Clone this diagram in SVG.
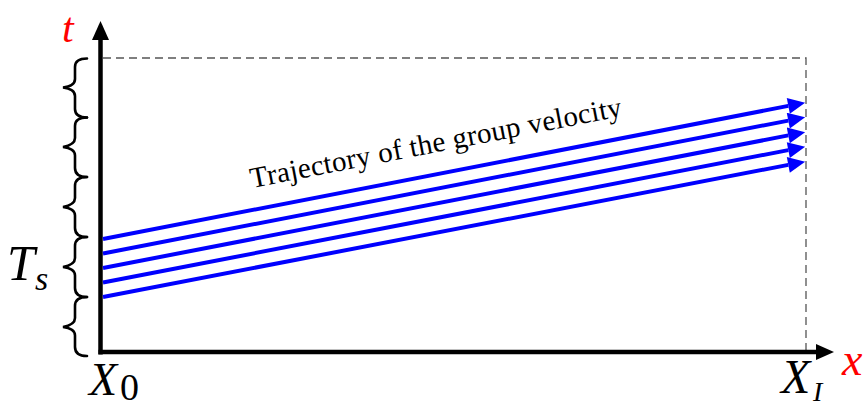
<svg xmlns="http://www.w3.org/2000/svg" width="868" height="410" viewBox="0 0 868 410">
<style>
.axis{stroke:#000;stroke-width:4.5;fill:none}
.dash{stroke:#555;stroke-width:1.3;stroke-dasharray:8 5;fill:none}
.traj{stroke:#0000FF;stroke-width:4;fill:none;marker-end:url(#bluehead)}
.brace{stroke:#000;stroke-width:2.6;fill:none;stroke-linecap:round}
</style>
<defs>
<marker id="bluehead" markerUnits="userSpaceOnUse" markerWidth="18" markerHeight="16" refX="0" refY="7" orient="auto" viewBox="0 0 15 14">
<path d="M0,0 L15,7 L0,14 z" fill="#0000FF"/>
</marker>
</defs>
<rect width="868" height="410" fill="#fff"/>
<g id="frame">
<path class="dash" d="M103,58 H806 V352"/>
</g>
<g id="axes">
<path class="axis" d="M100.5,354.5 V36"/>
<polygon points="100.5,21 92,40 109,40" fill="#000"/>
<path class="axis" d="M98.5,352 H818"/>
<polygon points="834,352 816,344 816,360" fill="#000"/>
</g>
<g id="braces">
<path class="brace" d="M87,58.5 C79,58.5 75,61 75,67 L75,79 C75,84 71,86.5 63,87.5 C71,88.5 75,91 75,96 L75,109 C75,115 79,117.5 87,117.5"/>
<path class="brace" d="M87,117.5 C79,117.5 75,120 75,126 L75,138 C75,143 71,145.5 63,147 C71,148 75,150.5 75,155.5 L75,168 C75,174 79,177 87,177"/>
<path class="brace" d="M87,177 C79,177 75,180 75,186 L75,198 C75,203 71,205.5 63,207 C71,208 75,210.5 75,215.5 L75,228 C75,234 79,237 87,237"/>
<path class="brace" d="M87,237 C79,237 75,240 75,246 L75,258 C75,263 71,265.5 63,267 C71,268 75,270.5 75,275.5 L75,288 C75,294 79,297 87,297"/>
<path class="brace" d="M87,297 C79,297 75,300 75,306 L75,318 C75,323 71,325.5 63,327 C71,328 75,330.5 75,335.5 L75,347 C75,353 79,356 87,356"/>
</g>
<g id="connectors">
<line class="traj" x1="103" y1="239" x2="788.3" y2="105.9"/>
<line class="traj" x1="103" y1="253.5" x2="788.3" y2="120.6"/>
<line class="traj" x1="103" y1="268" x2="788.3" y2="135.4"/>
<line class="traj" x1="103" y1="282.5" x2="788.3" y2="150.1"/>
<line class="traj" x1="103" y1="297" x2="788.3" y2="164.9"/>
</g>
<g id="labels" font-family="Liberation Serif, Times New Roman, serif">
<text font-style="italic" x="62" y="42" font-size="42" fill="#FF0000">t</text>
<text font-style="italic" x="842" y="375" font-size="46" fill="#FF0000">x</text>
<text font-style="italic" x="7" y="280" font-size="50">T</text>
<text font-style="italic" x="35" y="290" font-size="34">s</text>
<text font-style="italic" x="89" y="395" font-size="46">X</text>
<text x="120" y="400" font-size="38">0</text>
<text font-style="italic" x="781" y="393" font-size="48">X</text>
<text font-style="italic" x="813" y="401" font-size="28">I</text>
<text x="0" y="0" font-size="29" textLength="378" lengthAdjust="spacing" transform="translate(252,188) rotate(-11)">Trajectory of the group velocity</text>
</g>
</svg>
